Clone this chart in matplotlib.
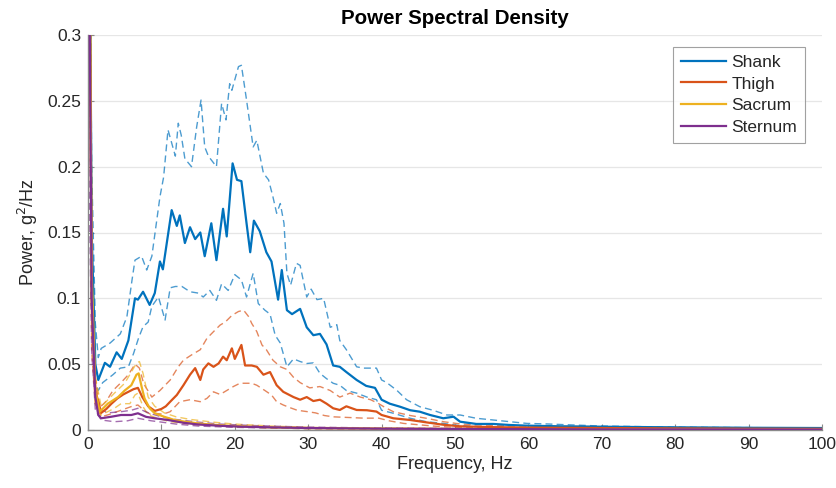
import matplotlib
matplotlib.use("Agg")
import matplotlib.pyplot as plt

plt.rcParams['font.family'] = ['Liberation Sans', 'DejaVu Sans']

# ---------------- data ----------------
shank_f = [0, 0.5, 1.0, 1.4, 2.3, 3.0, 3.9, 4.6, 5.5, 6.4, 6.8, 7.5, 8.4, 9.1, 9.8, 10.2, 11.4, 12.1,
           12.5, 13.2, 13.9, 14.6, 15.3, 15.9, 16.8, 17.5, 18.4, 18.9, 19.7, 20.3, 20.9, 21.6, 22.1,
           22.6, 23.4, 24.3, 25.0, 25.9, 26.4, 27.1, 27.8, 28.9, 29.8, 30.7, 31.6, 32.5, 33.4, 34.3,
           35.2, 36.6, 37.9, 39.1, 40.0, 41.1, 42.5, 43.9, 45.2, 46.6, 48.4, 49.8, 50.7, 52.9, 55.2,
           57.5, 59.8, 64.3, 70, 80, 90, 100]
shank_mean = [0.6, 0.15, 0.05, 0.038, 0.051, 0.048, 0.059, 0.054, 0.068, 0.100, 0.099, 0.105, 0.095,
              0.104, 0.128, 0.122, 0.167, 0.155, 0.163, 0.142, 0.154, 0.145, 0.150, 0.132, 0.157, 0.129,
              0.168, 0.147, 0.2025, 0.190, 0.189, 0.157, 0.135, 0.159, 0.151, 0.135, 0.128, 0.099,
              0.1215, 0.091, 0.088, 0.092, 0.078, 0.072, 0.073, 0.065, 0.049, 0.048, 0.044, 0.038,
              0.0335, 0.032, 0.023, 0.020, 0.0177, 0.015, 0.0139, 0.0114, 0.0089, 0.0101, 0.0063,
              0.0046, 0.0046, 0.0038, 0.0033, 0.0028, 0.0025, 0.002, 0.0017, 0.0015]

shank_up_f = [0, 0.5, 1.0, 1.4, 1.8, 3.0, 4.4, 5.3, 6.0, 6.4, 7.3, 8.0, 8.7, 9.8, 10.3, 10.9, 11.3,
              11.9, 12.3, 12.7, 13.2, 14.1, 14.8, 15.4, 15.9, 16.4, 17.5, 18.2, 18.8, 19.3, 19.6,
              20.5, 20.9, 21.6, 22.5, 23.0, 23.9, 24.6, 25.2, 25.7, 26.2, 26.7, 27.1, 27.6, 28.4,
              28.9, 29.8, 30.4, 31.2, 32.1, 33.0, 33.9, 34.3, 35.2, 36.6, 37.5, 38.2, 39.3, 40.0,
              40.7, 42.1, 43.4, 45.2, 47.0, 48.9, 50.7, 52.9, 55.2, 57.5, 59.8, 62.5, 65.2, 70, 80,
              90, 100]
shank_up = [0.6, 0.2, 0.081, 0.055, 0.062, 0.066, 0.073, 0.086, 0.114, 0.129, 0.132, 0.1215, 0.132,
            0.177, 0.192, 0.228, 0.220, 0.208, 0.233, 0.224, 0.206, 0.200, 0.230, 0.2506, 0.215,
            0.208, 0.200, 0.248, 0.2355, 0.263, 0.258, 0.276, 0.277, 0.2506, 0.215, 0.220, 0.195,
            0.190, 0.177, 0.1646, 0.172, 0.157, 0.119, 0.110, 0.1266, 0.125, 0.101, 0.107, 0.099,
            0.100, 0.078, 0.080, 0.068, 0.061, 0.048, 0.047, 0.047, 0.047, 0.038, 0.036, 0.030,
            0.023, 0.0177, 0.015, 0.0114, 0.0114, 0.0089, 0.0076, 0.0063, 0.005, 0.0046, 0.004,
            0.003, 0.0022, 0.0018, 0.0015]

shank_lo_f = [0, 0.5, 1.0, 1.4, 2.0, 3.4, 4.4, 5.5, 6.2, 6.9, 7.5, 8.2, 8.7, 9.6, 10.5, 11.2, 11.9,
              12.8, 13.9, 15.0, 15.7, 16.6, 17.5, 18.2, 19.1, 20.0, 20.9, 21.6, 22.5, 23.2, 24.1,
              24.8, 25.5, 26.2, 27.1, 28.0, 28.9, 29.8, 30.7, 31.6, 32.5, 33.4, 34.3, 35.2, 36.6,
              38.0, 39.3, 40.0, 41.6, 43.9, 46.1, 48.4, 50.7, 55.2, 60, 70, 80, 90, 100]
shank_lo = [0.6, 0.12, 0.035, 0.030, 0.036, 0.042, 0.047, 0.048, 0.058, 0.070, 0.0785, 0.082, 0.094,
            0.101, 0.0835, 0.108, 0.109, 0.109, 0.105, 0.104, 0.101, 0.106, 0.0985, 0.111, 0.106,
            0.118, 0.114, 0.101, 0.119, 0.096, 0.091, 0.088, 0.072, 0.066, 0.048, 0.054, 0.052,
            0.0505, 0.051, 0.043, 0.039, 0.0355, 0.034, 0.030, 0.028, 0.025, 0.023, 0.015, 0.0127,
            0.0089, 0.0063, 0.005, 0.0033, 0.0023, 0.0018, 0.0015, 0.0012, 0.001, 0.0008]

thigh_f = [0, 0.5, 1.0, 1.8, 2.5, 3.2, 4.0, 4.8, 5.5, 6.2, 6.8, 7.4, 8.2, 9.1, 10.0, 10.6, 11.2, 12.1,
           13.0, 13.9, 14.6, 15.3, 15.7, 16.4, 17.1, 17.8, 18.4, 18.9, 19.6, 20.0, 20.9, 21.4, 22.3,
           23.0, 23.9, 24.8, 25.7, 26.6, 27.3, 28.0, 28.9, 29.8, 30.7, 31.6, 32.5, 33.4, 34.3, 35.2,
           36.6, 38.0, 39.3, 40.0, 41.6, 43.9, 46.1, 48.4, 50.7, 55, 60, 70, 80, 90, 100]
thigh_mean = [0.6, 0.1, 0.03, 0.013, 0.016, 0.020, 0.024, 0.027, 0.029, 0.031, 0.032, 0.025, 0.018,
              0.0145, 0.016, 0.018, 0.0215, 0.0266, 0.034, 0.042, 0.047, 0.038, 0.046, 0.0506, 0.048,
              0.0506, 0.0557, 0.053, 0.062, 0.054, 0.0646, 0.049, 0.049, 0.048, 0.042, 0.044, 0.034,
              0.029, 0.027, 0.025, 0.023, 0.025, 0.022, 0.023, 0.020, 0.0165, 0.0152, 0.018, 0.0152,
              0.015, 0.014, 0.0114, 0.0089, 0.0076, 0.0058, 0.004, 0.0028, 0.0022, 0.0018, 0.0015,
              0.0012, 0.001, 0.0009]

thigh_up_f = [0, 0.5, 1.0, 1.6, 2.5, 3.4, 4.5, 5.5, 6.4, 7.0, 7.6, 8.7, 9.8, 10.5, 11.2, 12.3, 13.0,
              14.1, 15.3, 16.2, 17.1, 18.0, 18.7, 19.6, 20.5, 21.2, 21.9, 22.3, 23.0, 23.7, 24.3,
              25.2, 26.2, 27.1, 28.0, 28.9, 30.2, 31.6, 33.0, 34.3, 35.7, 37.1, 38.5, 39.6, 40.5,
              41.6, 43.9, 46.1, 48.4, 50.7, 55, 60, 70, 80, 90, 100]
thigh_up = [0.6, 0.15, 0.04, 0.017, 0.022, 0.030, 0.036, 0.042, 0.050, 0.047, 0.035, 0.025, 0.030,
            0.034, 0.038, 0.048, 0.053, 0.057, 0.061, 0.0696, 0.0747, 0.0797, 0.082, 0.087, 0.090,
            0.091, 0.086, 0.081, 0.0747, 0.0646, 0.061, 0.053, 0.048, 0.046, 0.040, 0.036, 0.032,
            0.033, 0.030, 0.025, 0.028, 0.025, 0.023, 0.020, 0.017, 0.0139, 0.011, 0.0089, 0.0063,
            0.0046, 0.0035, 0.003, 0.0025, 0.002, 0.0017, 0.0015]

thigh_lo_f = [0, 0.5, 1.0, 1.8, 3, 4, 5, 6, 6.8, 7.6, 8.5, 9.1, 10.2, 11.2, 12.5, 13.9, 15.3, 16.2,
              17.1, 18.0, 18.9, 19.8, 20.7, 21.4, 22.3, 23.0, 24.1, 25.0, 25.7, 26.6, 27.5, 28.5,
              29.8, 31, 32.2, 33.4, 35.5, 37.6, 39.6, 41, 43, 45, 47, 50, 60, 70, 80, 90, 100]
thigh_lo = [0.5, 0.06, 0.02, 0.010, 0.012, 0.014, 0.016, 0.018, 0.019, 0.015, 0.012, 0.0127, 0.012,
            0.0139, 0.0215, 0.023, 0.0215, 0.024, 0.029, 0.027, 0.030, 0.033, 0.0355, 0.0355, 0.0355,
            0.034, 0.030, 0.0266, 0.0215, 0.019, 0.017, 0.015, 0.014, 0.013, 0.011, 0.010, 0.0095,
            0.009, 0.009, 0.007, 0.005, 0.004, 0.003, 0.002, 0.0013, 0.001, 0.0008, 0.0006, 0.0005]

sacrum_f = [0, 0.5, 1.0, 1.6, 2.7, 4.1, 5.0, 5.9, 6.6, 6.9, 7.3, 7.7, 8.4, 9.1, 10.4, 11.8, 13, 15,
            17, 20, 25, 30, 40, 50, 70, 100]
sacrum_mean = [0.6, 0.12, 0.03, 0.0139, 0.020, 0.025, 0.030, 0.034, 0.042, 0.043, 0.033, 0.024,
               0.0165, 0.0127, 0.010, 0.0076, 0.0065, 0.005, 0.004, 0.003, 0.002, 0.0015, 0.001,
               0.0008, 0.0005, 0.0004]

sacrum_up_f = [0, 0.5, 1.0, 1.8, 3.6, 5.0, 5.9, 6.6, 7.0, 7.5, 8.2, 9.1, 10.4, 12, 14, 17, 20, 25,
               30, 40, 50, 70, 100]
sacrum_up = [0.6, 0.15, 0.04, 0.0177, 0.028, 0.0355, 0.044, 0.0506, 0.052, 0.043, 0.025, 0.018,
             0.013, 0.010, 0.008, 0.006, 0.0045, 0.003, 0.002, 0.0015, 0.001, 0.0008, 0.0006]

sacrum_lo_f = [0, 0.5, 1.0, 1.8, 3.6, 4.5, 5.7, 6.4, 6.8, 7.5, 8.2, 9.5, 11, 13, 15, 20, 25, 30, 40,
               60, 100]
sacrum_lo = [0.5, 0.08, 0.02, 0.0114, 0.0165, 0.020, 0.020, 0.0266, 0.028, 0.0177, 0.0114, 0.009,
             0.0065, 0.005, 0.004, 0.0025, 0.0015, 0.001, 0.0007, 0.0004, 0.0002]

sternum_f = [0, 0.5, 1.0, 1.4, 1.8, 3.2, 4.5, 5.9, 6.8, 7.9, 9.1, 10.9, 13, 15, 18, 21, 25, 30, 40,
             50, 70, 100]
sternum_mean = [0.5, 0.1, 0.025, 0.0114, 0.0089, 0.0101, 0.0114, 0.0114, 0.0127, 0.010, 0.0089,
                0.0076, 0.0055, 0.0042, 0.0032, 0.0025, 0.002, 0.0015, 0.001, 0.0008, 0.0005, 0.0004]

sternum_up_f = [0, 0.5, 1.0, 1.4, 2.7, 4.5, 5.9, 6.8, 8.2, 10, 12, 15, 18, 22, 26, 30, 40, 50, 70,
                100]
sternum_up = [0.5, 0.12, 0.03, 0.0165, 0.013, 0.0139, 0.015, 0.0165, 0.013, 0.010, 0.008, 0.006,
              0.0045, 0.0035, 0.0028, 0.0022, 0.0015, 0.0012, 0.0008, 0.0006]

sternum_lo_f = [0, 0.5, 1.0, 1.8, 3.6, 5.4, 6.8, 8.6, 10, 12, 15, 20, 25, 30, 40, 60, 100]
sternum_lo = [0.24, 0.06, 0.015, 0.0076, 0.0063, 0.007, 0.0089, 0.007, 0.006, 0.0045, 0.003, 0.002,
              0.0015, 0.001, 0.0007, 0.0004, 0.0003]

labels = ["Shank", "Thigh", "Sacrum", "Sternum"]
colors = ["#0072BD", "#D95319", "#EDB120", "#7E2F8E"]
x_ticks = [0, 10, 20, 30, 40, 50, 60, 70, 80, 90, 100]
y_ticks = [0, 0.05, 0.1, 0.15, 0.2, 0.25, 0.3]
y_ticklabels = ["0", "0.05", "0.1", "0.15", "0.2", "0.25", "0.3"]

series = [
    (shank_f, shank_mean, shank_up_f, shank_up, shank_lo_f, shank_lo),
    (thigh_f, thigh_mean, thigh_up_f, thigh_up, thigh_lo_f, thigh_lo),
    (sacrum_f, sacrum_mean, sacrum_up_f, sacrum_up, sacrum_lo_f, sacrum_lo),
    (sternum_f, sternum_mean, sternum_up_f, sternum_up, sternum_lo_f, sternum_lo),
]

# ---------------- figure ----------------
fig = plt.figure(figsize=(8.37, 4.88), dpi=100)
ax = fig.add_axes([88 / 837, 58 / 488, 734 / 837, 395 / 488])

handles = []
for (f, m, fu, u, fl, lo), c, lab in zip(series, colors, labels):
    h, = ax.plot(f, m, color=c, lw=1.6, label=lab, zorder=3)
    ax.plot(fu, u, color=c, lw=1.0, ls=(0, (5, 3)), alpha=0.7, zorder=2)
    ax.plot(fl, lo, color=c, lw=1.0, ls=(0, (5, 3)), alpha=0.7, zorder=2)
    handles.append(h)

ax.set_xlim(0, 100)
ax.set_ylim(0, 0.3)
ax.set_xticks(x_ticks)
ax.set_yticks(y_ticks)
ax.set_yticklabels(y_ticklabels)

ax.yaxis.grid(True, color="#e6e6e6", lw=0.9)
ax.set_axisbelow(True)
for s in ["top", "right"]:
    ax.spines[s].set_visible(False)
for s in ["left", "bottom"]:
    ax.spines[s].set_color("#8a8a8a")
    ax.spines[s].set_linewidth(1.0)
ax.tick_params(direction="in", length=4, width=0.8, color="#8a8a8a",
               labelsize=12.5, labelcolor="#262626", pad=5)

ax.set_xlabel("Frequency, Hz", fontsize=13, color="#262626", labelpad=3)
ax.set_ylabel("Power, g$^2$/Hz", fontsize=13, color="#262626", labelpad=5)
ax.set_title("Power Spectral Density", fontsize=14.8, fontweight="bold", color="#000000", pad=8)

leg = ax.legend(handles=handles, loc="upper right", bbox_to_anchor=(0.977, 0.97),
                borderaxespad=0, fontsize=12.5, frameon=True, fancybox=False,
                handlelength=2.6, handletextpad=0.3, labelspacing=0.38, borderpad=0.45)
leg.get_frame().set_edgecolor("#8a8a8a")
leg.get_frame().set_linewidth(0.8)
for t in leg.get_texts():
    t.set_color("#262626")

fig.savefig("out.png", dpi=100)
